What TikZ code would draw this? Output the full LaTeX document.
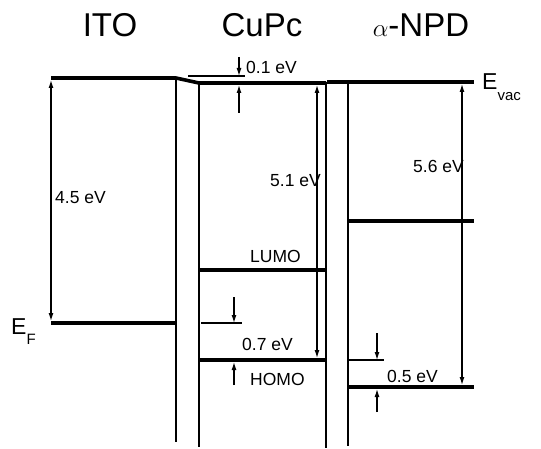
\documentclass[tikz,border=0pt]{standalone}
\usepackage{fontspec}
\setmainfont{Liberation Sans}
\usetikzlibrary{arrows.meta}
\tikzset{
  level/.style={line width=3.6pt},
  wall/.style={line width=1.6pt},
  thinl/.style={line width=1.2pt},
  dim/.style={line width=1.2pt,{Latex[length=8pt,width=5pt]}-{Latex[length=8pt,width=5pt]}},
  pt/.style={line width=1.2pt,-{Latex[length=8pt,width=5pt]}},
  lab/.style={font=\fontsize{17.5}{17.5}\selectfont,anchor=base west,inner sep=0pt},
  ttl/.style={font=\fontsize{33}{33}\selectfont,anchor=base,inner sep=0pt},
}
\newcommand{\subx}[1]{\raisebox{-0.45em}{\fontsize{15}{15}\selectfont #1}}
\begin{document}
\begin{tikzpicture}[x=1pt,y=-1pt]
\useasboundingbox (0,0) rectangle (541,449);
% titles
\node[ttl] (tito) at (110,37) {ITO};
\node[ttl] (tcupc) at (262,37) {CuPc};
\node[ttl] (tnpd) at (421,37) {$\alpha$-NPD};
% coordinates
\coordinate (itoL) at (51,78);
\coordinate (itoR) at (176,78);
\coordinate (cuL) at (199,83);
\coordinate (cuR) at (326,83);
\coordinate (npL) at (327,82);
\coordinate (npR) at (474,82);
% vacuum levels
\draw[level] (itoL) -- (itoR) -- (cuL) -- (cuR);
\draw[level] (npL) -- (npR);
% walls
\draw[line width=1.4pt] (itoR) -- (176,442);
\draw[line width=2pt] (cuL) -- (199,447);
\draw[line width=2.3pt] (326,82) -- (326,448);
\draw[wall] (348,82) -- (348,446);
% Fermi level
\coordinate (efL) at (51,323);
\coordinate (efR) at (176,323);
\draw[level] (efL) -- (efR);
% CuPc LUMO, HOMO
\coordinate (lumoL) at (199,270);
\coordinate (lumoR) at (326,270);
\coordinate (homoL) at (199,360);
\coordinate (homoR) at (326,360);
\draw[level] (lumoL) -- (lumoR);
\draw[level] (homoL) -- (homoR);
% NPD levels
\coordinate (nmidL) at (348,221);
\coordinate (nmidR) at (474,221);
\coordinate (nhL) at (348,387);
\coordinate (nhR) at (474,387);
\draw[level] (nmidL) -- (nmidR);
\draw[level] (nhL) -- (nhR);
% 4.5 eV
\coordinate (a45t) at (51,80);
\coordinate (a45b) at (51,321);
\draw[dim] (a45t) -- (a45b);
\node[lab] (l45) at (55,204) {4.5 eV};
% 5.1 eV
\coordinate (a51t) at (317,85);
\coordinate (a51b) at (317,358);
\draw[dim] (a51t) -- (a51b);
\node[lab] (l51) at (270,187) {5.1 eV};
% 5.6 eV
\coordinate (a56t) at (462,84);
\coordinate (a56b) at (462,385);
\draw[dim] (a56t) -- (a56b);
\node[lab] (l56) at (413,173) {5.6 eV};
% 0.1 eV
\coordinate (r01a) at (188,76);
\coordinate (r01b) at (245,76);
\draw[thinl] (r01a) -- (r01b);
\coordinate (d01s) at (239,57);
\coordinate (d01e) at (239,76);
\draw[pt] (d01s) -- (d01e);
\coordinate (u01s) at (239,113);
\coordinate (u01e) at (239,85);
\draw[pt] (u01s) -- (u01e);
\node[lab] (l01) at (246,74) {0.1 eV};
% 0.7 eV
\coordinate (r07a) at (201,323);
\coordinate (r07b) at (242,323);
\draw[thinl] (r07a) -- (r07b);
\coordinate (d07s) at (234,297);
\coordinate (d07e) at (234,323);
\draw[pt] (d07s) -- (d07e);
\coordinate (u07s) at (234,385);
\coordinate (u07e) at (234,362);
\draw[pt] (u07s) -- (u07e);
\node[lab] (l07) at (242,350) {0.7 eV};
% 0.5 eV
\coordinate (r05a) at (348,360);
\coordinate (r05b) at (384,360);
\draw[thinl] (r05a) -- (r05b);
\coordinate (d05s) at (377,333);
\coordinate (d05e) at (377,360);
\draw[pt] (d05s) -- (d05e);
\coordinate (u05s) at (377,412);
\coordinate (u05e) at (377,389);
\draw[pt] (u05s) -- (u05e);
\node[lab] (l05) at (387,382) {0.5 eV};
% LUMO / HOMO labels
\node[lab] (llumo) at (250,262) {LUMO};
\node[lab] (lhomo) at (250,385) {HOMO};
% E labels
\node[lab,font=\fontsize{23}{23}\selectfont] (evac) at (482,90) {E\subx{vac}};
\node[lab,font=\fontsize{23}{23}\selectfont] (ef) at (11,334) {E\subx{F}};
\end{tikzpicture}
\end{document}
